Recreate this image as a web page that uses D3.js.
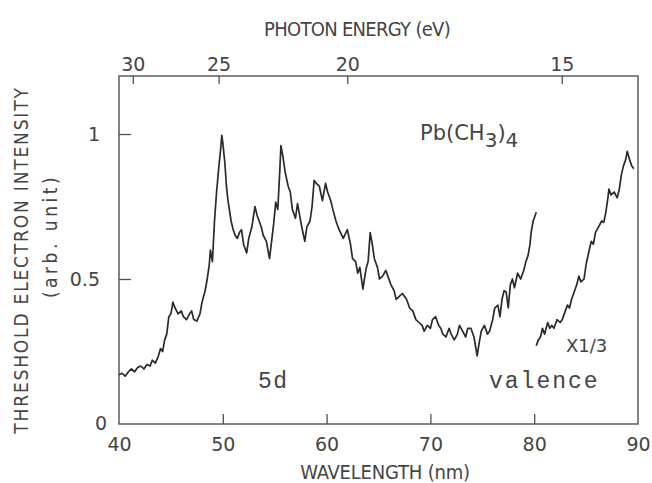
<!DOCTYPE html>
<html>
<head>
<meta charset="utf-8">
<script src="https://cdn.jsdelivr.net/npm/d3@7"></script>
<style>
  body { margin: 0; background: #fff; }
  svg { display: block; }
  text { font-family: "DejaVu Sans", sans-serif; fill: #444; }
  .cond { font-family: "DejaVu Sans Condensed", "DejaVu Sans", sans-serif; }
  .mono { font-family: "Liberation Mono", "DejaVu Sans Mono", monospace; }
</style>
</head>
<body>
<div id="chart"></div>
<script>
// wavelength (nm) / intensity, 5d region
var core_wl = [40.0,40.3,40.6,40.9,41.2,41.5,41.8,42.1,42.4,42.7,43.0,43.2,43.5,43.8,44.0,44.2,44.4,44.6,44.8,45.0,
  45.2,45.4,45.7,46.0,46.2,46.5,46.8,47.0,47.2,47.5,47.8,48.0,48.3,48.5,48.7,48.8,48.9,49.0,49.2,49.4,
  49.6,49.8,49.9,50.0,50.2,50.35,50.5,50.8,51.0,51.2,51.4,51.6,51.8,52.0,52.3,52.5,52.8,53.1,53.3,53.5,
  53.7,53.9,54.2,54.5,54.7,54.9,55.1,55.3,55.5,55.6,55.8,56.0,56.3,56.5,56.7,57.0,57.2,57.4,57.6,57.9,
  58.1,58.4,58.6,58.8,59.0,59.3,59.6,59.9,60.1,60.4,60.6,60.9,61.2,61.6,62.0,62.3,62.5,62.8,63.0,63.2,
  63.5,63.8,64.0,64.2,64.4,64.6,64.9,65.1,65.4,65.7,65.9,66.2,66.5,66.7,67.0,67.3,67.7,68.0,68.3,68.6,
  68.9,69.2,69.4,69.7,70.0,70.2,70.5,70.8,71.0,71.2,71.5,71.8,72.0,72.3,72.6,72.8,73.1,73.4,73.6,73.9,
  74.2,74.5,74.7,74.9,75.2,75.5,75.7,76.0,76.2,76.5,76.7,76.9,77.1,77.3,77.5,77.7,77.9,78.1,78.4,78.7,
  79.0,79.2,79.4,79.6,79.7,79.9,80.2];
var core_int = [0.17,0.175,0.165,0.18,0.19,0.18,0.195,0.20,0.19,0.205,0.20,0.22,0.21,0.235,0.26,0.25,0.29,0.31,0.37,0.38,
  0.42,0.40,0.38,0.39,0.37,0.36,0.38,0.39,0.36,0.355,0.38,0.42,0.46,0.50,0.55,0.60,0.58,0.56,0.70,0.80,
  0.88,0.95,0.995,0.97,0.90,0.82,0.77,0.70,0.67,0.65,0.64,0.66,0.67,0.62,0.59,0.64,0.68,0.75,0.72,0.70,
  0.68,0.65,0.63,0.57,0.63,0.69,0.765,0.74,0.88,0.96,0.92,0.87,0.82,0.80,0.74,0.71,0.76,0.72,0.68,0.63,
  0.68,0.70,0.75,0.84,0.83,0.82,0.77,0.83,0.80,0.77,0.74,0.70,0.67,0.64,0.67,0.62,0.57,0.56,0.52,0.54,
  0.465,0.535,0.56,0.66,0.62,0.57,0.54,0.50,0.51,0.53,0.51,0.48,0.46,0.43,0.44,0.45,0.43,0.40,0.39,0.36,
  0.35,0.34,0.32,0.34,0.33,0.36,0.37,0.34,0.33,0.31,0.30,0.33,0.31,0.29,0.31,0.34,0.32,0.30,0.33,0.33,
  0.30,0.235,0.28,0.32,0.34,0.31,0.32,0.36,0.40,0.41,0.37,0.43,0.46,0.455,0.40,0.48,0.50,0.47,0.52,0.50,
  0.53,0.56,0.58,0.62,0.66,0.70,0.73];

// valence region (scaled x1/3)
var val_wl = [80.2,80.4,80.6,80.8,81.0,81.3,81.5,81.7,81.9,82.2,82.5,82.7,83.0,83.2,83.4,83.6,83.85,84.1,84.3,84.5,
  84.8,85.0,85.3,85.5,85.7,85.9,86.2,86.5,86.7,86.9,87.1,87.2,87.4,87.7,88.0,88.2,88.4,88.6,88.8,88.97,
  89.2,89.4,89.6];
var val_int = [0.27,0.29,0.30,0.33,0.31,0.35,0.33,0.34,0.33,0.36,0.35,0.36,0.39,0.41,0.40,0.43,0.455,0.48,0.51,0.49,
  0.50,0.55,0.60,0.63,0.62,0.66,0.68,0.70,0.695,0.73,0.78,0.81,0.79,0.80,0.78,0.81,0.86,0.89,0.91,0.94,
  0.91,0.89,0.88];

var wl_ticks = [40, 50, 60, 70, 80, 90];
var ev_ticks = [30, 25, 20, 15];
var int_ticks = [0, 0.5, 1];
var hc = 1239.84;

var W = 652, H = 483;
var m = {left: 119, right: 14, top: 76, bottom: 59};
var iw = W - m.left - m.right, ih = H - m.top - m.bottom;

var svg = d3.select('#chart').append('svg').attr('width', W).attr('height', H);
var g = svg.append('g').attr('transform', 'translate(' + m.left + ',' + m.top + ')');

var x = d3.scaleLinear().domain([40, 90]).range([0, iw]);
var y = d3.scaleLinear().domain([0, 1.2]).range([ih, 0]);

var axisColor = '#505050';

// bottom axis
var xb = g.append('g').attr('transform', 'translate(0,' + ih + ')')
  .call(d3.axisBottom(x).tickValues(wl_ticks).tickSize(-10).tickPadding(14));
// top axis, photon energy
var xt = g.append('g')
  .call(d3.axisTop(x).tickValues(ev_ticks.map(function(e){ return hc / e; }))
    .tickFormat(function(d){ return d3.format('d')(Math.round(hc / d)); })
    .tickSize(-8).tickPadding(5));
// left axis
var yl = g.append('g')
  .call(d3.axisLeft(y).tickValues(int_ticks).tickFormat(function(d){ return d === 0 ? '0' : (d === 1 ? '1' : '0.5'); })
    .tickSize(-12).tickPadding(19));

[xb, xt, yl].forEach(function(a) {
  a.select('.domain').remove();
  a.selectAll('line').attr('stroke', axisColor).attr('stroke-width', 1.3);
  a.selectAll('text').style('font-size', '19px').style('font-family', '"DejaVu Sans", sans-serif').attr('fill', '#4a4a4a');
});
// drop the ticks that sit on the frame
xb.selectAll('.tick').filter(function(d){ return d === 40 || d === 90; }).select('line').remove();
yl.selectAll('.tick').filter(function(d){ return d === 0; }).select('line').remove();
yl.selectAll('.tick').filter(function(d){ return d === 0; }).select('text').attr('x', -12).attr('dy', '0.3em');

// frame
g.append('rect').attr('width', iw).attr('height', ih)
  .attr('fill', 'none').attr('stroke', axisColor).attr('stroke-width', 1.4);

// curves
var line = d3.line().x(function(d){ return x(d[0]); }).y(function(d){ return y(d[1]); });
var core = d3.zip(core_wl, core_int), val = d3.zip(val_wl, val_int);
[core, val].forEach(function(s) {
  g.append('path').datum(s).attr('d', line)
    .attr('fill', 'none').attr('stroke', '#2a2a2a').attr('stroke-width', 1.7)
    .attr('stroke-linejoin', 'round');
});

// titles
svg.append('text').attr('class', 'cond').attr('x', 357).attr('y', 36).attr('text-anchor', 'middle')
  .style('font-size', '20px').style('letter-spacing', '-0.7px').text('PHOTON ENERGY (eV)');
svg.append('text').attr('class', 'cond').attr('x', 385).attr('y', 479).attr('text-anchor', 'middle')
  .style('font-size', '20px').style('letter-spacing', '-0.2px').text('WAVELENGTH (nm)');
svg.append('text').attr('class', 'cond').attr('transform', 'translate(28,260) rotate(-90)').attr('text-anchor', 'middle')
  .style('font-size', '19px').style('letter-spacing', '1.8px').text('THRESHOLD ELECTRON INTENSITY');
svg.append('text').attr('class', 'cond').attr('transform', 'translate(57,236) rotate(-90)').attr('text-anchor', 'middle')
  .style('font-size', '19px').style('letter-spacing', '3.5px').text('(arb. unit)');

// annotations
var pb = svg.append('text').attr('x', 420).attr('y', 140).style('font-size', '21px');
pb.append('tspan').text('Pb(CH');
pb.append('tspan').attr('dy', 7).style('font-size', '20px').text('3');
pb.append('tspan').attr('dy', -7).text(')');
pb.append('tspan').attr('dy', 7).style('font-size', '20px').text('4');

svg.append('text').attr('class', 'mono').attr('x', 258).attr('y', 388).style('font-size', '23px').style('letter-spacing', '1.5px').text('5d');
svg.append('text').attr('class', 'mono').attr('x', 489).attr('y', 388).style('font-size', '23px').style('letter-spacing', '2px').text('valence');
svg.append('text').attr('x', 566).attr('y', 352).style('font-size', '18px').text('X1/3');
</script>
</body>
</html>
